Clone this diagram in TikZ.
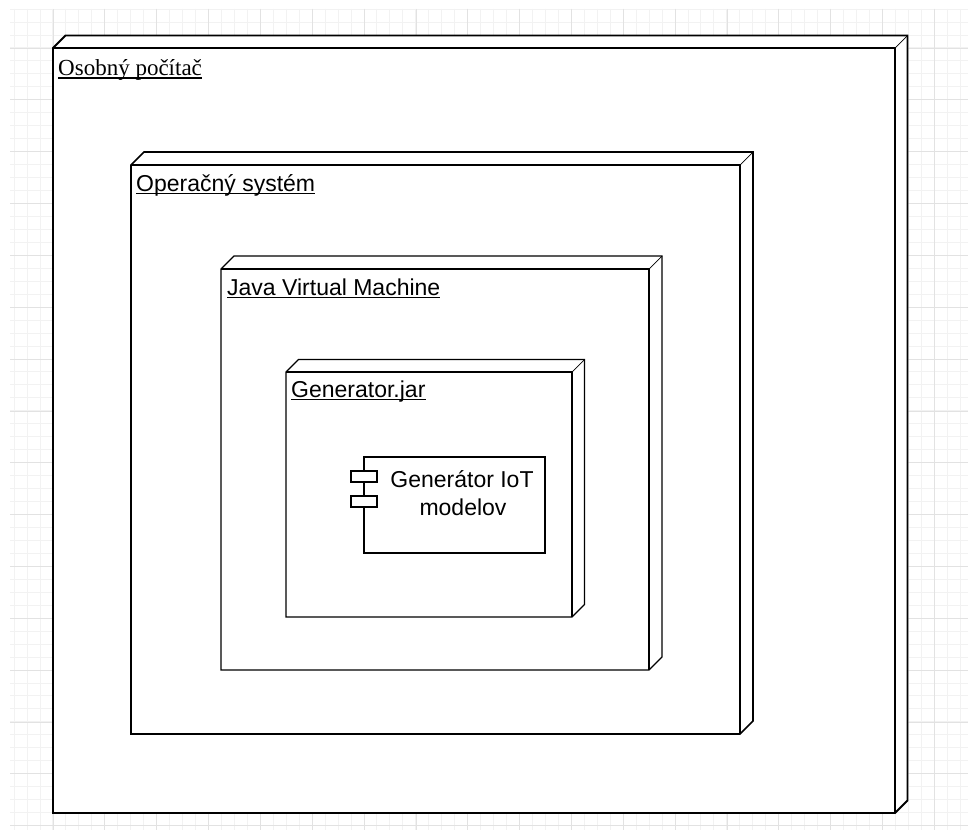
\documentclass[tikz,border=0pt]{standalone}
\usepackage{fontspec}
\setmainfont{Liberation Serif}
\newfontfamily\arialfont{Liberation Sans}
\definecolor{gridlo}{HTML}{F2F2F2}
\definecolor{gridhi}{HTML}{E2E2E2}
\tikzset{
  gridminor/.style={draw=gridlo, line width=0.8pt},
  gridmajor/.style={draw=gridhi, line width=0.9pt},
  cubeface/.style={fill=white, draw=black, line join=miter},
  cubeedge/.style={draw=black, line width=0.7pt},
  lbl/.style={anchor=base west, inner sep=0pt, text=black,
    font=\arialfont\fontsize{23}{28}\selectfont},
  serlbl/.style={lbl, font=\fontsize{23}{28}\selectfont},
  uline/.style={draw=black, line width=1.4pt},
  comp/.style={draw=black, fill=white, line width=1.1pt},
  comptext/.style={anchor=base, inner sep=0pt, text=black,
    font=\arialfont\fontsize{23}{28}\selectfont},
}
% 3D deployment node: left, front top, front right, bottom, depth, line width
\newcommand\cubenode[6]{%
  \path[cubeface, line width=#6]
    (#1+#5,#2-#5) -- (#3+#5,#2-#5) -- (#3+#5,#4-#5) -- (#3,#4)
    -- (#1,#4) -- (#1,#2) -- cycle;
  \draw[line width=#6] (#1,#2) -- (#3,#2) -- (#3,#4);
  \draw[cubeedge] (#3,#2) -- (#3+#5,#2-#5);
}
\newcommand\underlined[1]{%
  \draw[uline] ([yshift=-2.5pt]#1.base west) -- ([yshift=-2.5pt]#1.base east);
}
\begin{document}
\begin{tikzpicture}[x=1pt,y=-1pt]
\useasboundingbox[fill=white] (0,0) rectangle (968,832);

% background grid
\foreach \k in {0,...,73}
  \draw[gridminor] (14+12.96*\k,9) -- (14+12.96*\k,830);
\foreach \k in {0,...,63}
  \draw[gridminor] (10,9+12.96*\k) -- (968,9+12.96*\k);
\foreach \k in {0,...,17}
  \draw[gridmajor] (53+51.85*\k,9) -- (53+51.85*\k,830);
\foreach \k in {0,...,15}
  \draw[gridmajor] (10,48+51.85*\k) -- (968,48+51.85*\k);

% nested deployment nodes
\cubenode{53}{48}{895}{813}{12.5}{1.9pt}
\cubenode{131}{165}{740}{734}{13}{1.6pt}
\cubenode{221}{269}{649}{670}{13}{1.2pt}
\cubenode{286}{372}{572}{617}{12.5}{1.2pt}

\node[serlbl] (pc) at (58,75.5) {Osobný počítač};
\node[lbl] (os) at (136,191) {Operačný systém};
\node[lbl] (jvm) at (227,295) {Java Virtual Machine};
\node[lbl] (jar) at (291,397) {Generator.jar};
\underlined{pc}
\underlined{os}
\underlined{jvm}
\underlined{jar}

% component
\path[comp] (364,457) rectangle (545,553);
\path[comp] (351,471) rectangle (377,482);
\path[comp] (351,496) rectangle (377,507);
\node[comptext] (gen1) at (462,487) {Generátor IoT};
\node[comptext] (gen2) at (463,515) {modelov};
\end{tikzpicture}
\end{document}
